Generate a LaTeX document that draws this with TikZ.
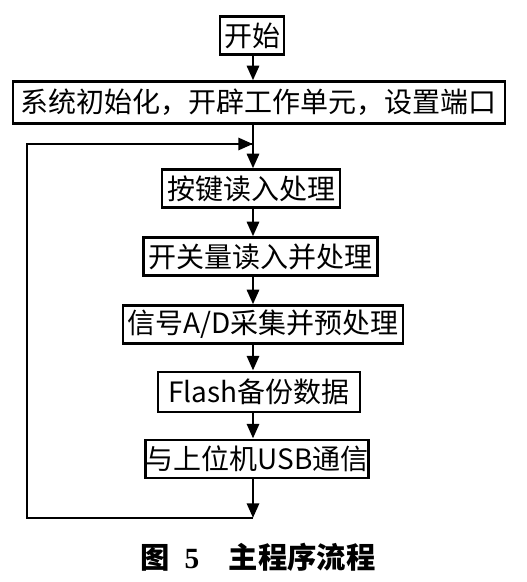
\documentclass[tikz,border=0pt]{standalone}
\usepackage{fontspec}
\setmainfont{Liberation Serif}
\newfontfamily\cjk{Noto Sans CJK SC}
\newfontfamily\cjkb{Noto Sans CJK SC Bold}
\usetikzlibrary{arrows.meta}
\begin{document}
\begin{tikzpicture}[x=0.75pt,y=-0.75pt,
  box/.style={draw=black, line width=2.2pt, inner sep=0pt, font=\cjk\fontsize{21}{23}\selectfont},
  conn/.style={line width=2.2pt, -{Triangle[length=11pt,width=9pt]}},
  plain/.style={line width=2.2pt}]
\useasboundingbox[fill=white] (0,0) rectangle (526,582);
\coordinate (spine) at (253,0);
\node[box, minimum width=48pt, minimum height=29pt] (start) at (252,35.5) {开始};
\node[box, minimum width=369pt, minimum height=31pt] (init) at (259,102.5) {系统初始化，开辟工作单元，设置端口};
\node[box, minimum width=133.5pt, minimum height=28pt] (key) at (251,188.5) {按键读入处理};
\node[box, minimum width=176pt, minimum height=28pt] (sw) at (260.5,256.5) {开关量读入并处理};
\node[box, minimum width=210pt, minimum height=28pt] (ad) at (263,324.5) {信号A/D采集并预处理};
\node[box, minimum width=151.5pt, minimum height=30pt] (fl) at (259,392) {Flash备份数据};
\node[box, minimum width=165pt, minimum height=28.5pt] (usb) at (257,459) {与上位机USB通信};
\coordinate (bot) at (253,518);
\coordinate (bl) at (27,518);
\coordinate (tl) at (27,144);
\coordinate (join) at (253,144);
\draw[conn] (start.south -| spine) -- (init.north -| spine);
\draw[conn] (init.south -| spine) -- (key.north -| spine);
\draw[conn] (key.south -| spine) -- (sw.north -| spine);
\draw[conn] (sw.south -| spine) -- (ad.north -| spine);
\draw[conn] (ad.south -| spine) -- (fl.north -| spine);
\draw[conn] (fl.south -| spine) -- (usb.north -| spine);
\draw[conn] (usb.south -| spine) -- (bot);
\draw[plain, line join=miter] (bot) -- (bl) -- (tl) -- (join);
\draw[conn] (tl) -- (join);
\node[font=\bfseries\fontsize{22}{24}\selectfont, anchor=west] (cap) at (136,557) {\cjkb 图\enspace\rmfamily\bfseries 5\quad\cjkb 主程序流程};
\end{tikzpicture}
\end{document}
